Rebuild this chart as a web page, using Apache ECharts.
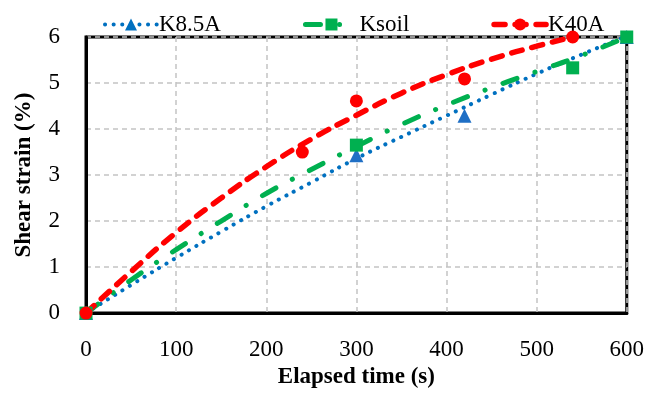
<!DOCTYPE html>
<html><head><meta charset="utf-8">
<script src="https://cdn.jsdelivr.net/npm/echarts@6/dist/echarts.min.js"></script>
<style>html,body{margin:0;padding:0;background:#fff}#c{width:647px;height:394px}</style>
</head><body><div id="c"></div>
<script>
const seriesNames = ['K8.5A', 'Ksoil', 'K40A'];
const xTicks = [0, 100, 200, 300, 400, 500, 600];
const yTicks = [0, 1, 2, 3, 4, 5, 6];

// measured points
const k85X = [0, 300, 420, 600];
const k85Y = [0, 3.43, 4.29, 6.0];
const ksoilX = [0, 300, 540, 600];
const ksoilY = [0, 3.65, 5.33, 6.0];
const k40X = [0, 240, 300, 420, 540];
const k40Y = [0, 3.5, 4.61, 5.09, 6.0];

// trend lines
const trend85X = [0, 50, 100, 150, 200, 250, 300, 350, 400, 450, 500, 550, 600];
const trend85Y = [0, 0.61, 1.2, 1.77, 2.32, 2.84, 3.36, 3.83, 4.29, 4.75, 5.2, 5.62, 6.02];
const trendSoilX = [0, 50, 100, 150, 200, 250, 300, 350, 400, 450, 500, 550, 600];
const trendSoilY = [0, 0.72, 1.38, 2.0, 2.6, 3.12, 3.62, 4.1, 4.52, 4.9, 5.25, 5.6, 6.0];
const trend40X = [0, 50, 100, 150, 200, 250, 300, 350, 400, 450, 500, 540];
const trend40Y = [0, 0.9, 1.75, 2.5, 3.18, 3.78, 4.3, 4.78, 5.18, 5.52, 5.8, 6.0];

const pairs = (xs, ys) => xs.map((x, i) => [x, ys[i]]);
const FONT = 'Liberation Serif';
const BLUE = '#0070C0', GREEN = '#00B050', RED = '#FF0000';
const styles = [
  { color: BLUE, width: 4, type: [0.1, 8.5], symbol: 'triangle' },
  { color: GREEN, width: 5, type: [15, 19, 0.1, 19], symbol: 'rect' },
  { color: RED, width: 5.5, type: [11, 10], symbol: 'circle' }
];
const lineStyleOf = s => ({ color: s.color, width: s.width, type: s.type, cap: 'round', opacity: 1 });

const chart = echarts.init(document.getElementById('c'));
chart.setOption({
  animation: false,
  backgroundColor: '#fff',
  textStyle: { fontFamily: FONT, color: '#000' },
  grid: { left: 86, right: 18, top: 37, bottom: 78, show: true, borderColor: '#000', borderWidth: 3 },
  legend: {
    data: seriesNames.map((n, i) => ({
      name: n,
      itemStyle: { color: styles[i].color, opacity: 1 },
      lineStyle: lineStyleOf(styles[i])
    })),
    left: 98, top: 8,
    itemWidth: 52, itemHeight: 15, itemGap: 82,
    textStyle: { fontFamily: FONT, fontSize: 23, color: '#000', padding: [0, 0, 0, -3] }
  },
  xAxis: {
    type: 'value', min: xTicks[0], max: xTicks[xTicks.length - 1], interval: 100,
    name: 'Elapsed time (s)', nameLocation: 'middle', nameGap: 47,
    nameTextStyle: { fontFamily: FONT, fontSize: 23, fontWeight: 'bold', color: '#000' },
    axisLine: { lineStyle: { color: '#000', width: 3 } },
    axisTick: { show: false },
    axisLabel: { fontFamily: FONT, fontSize: 23, color: '#000', margin: 25 },
    splitLine: { show: true, lineStyle: { color: '#c4c4c4', width: 1.5, type: [5, 4] } }
  },
  yAxis: {
    type: 'value', min: yTicks[0], max: yTicks[yTicks.length - 1], interval: 1,
    name: 'Shear strain (%)', nameLocation: 'middle', nameGap: 50,
    nameTextStyle: { fontFamily: FONT, fontSize: 23, fontWeight: 'bold', color: '#000' },
    axisLine: { lineStyle: { color: '#000', width: 3 } },
    axisTick: { show: false },
    axisLabel: { fontFamily: FONT, fontSize: 23, color: '#000', margin: 26 },
    splitLine: { show: true, lineStyle: { color: '#c4c4c4', width: 1.5, type: [5, 4] } }
  },
  series: [
    { name: seriesNames[0], type: 'line', data: pairs(trend85X, trend85Y), smooth: true, showSymbol: false,
      symbol: styles[0].symbol, clip: false,
      itemStyle: { color: styles[0].color }, lineStyle: lineStyleOf(styles[0]) },
    { name: seriesNames[1], type: 'line', data: pairs(trendSoilX, trendSoilY), smooth: true, showSymbol: false,
      symbol: styles[1].symbol, clip: false,
      itemStyle: { color: styles[1].color }, lineStyle: lineStyleOf(styles[1]) },
    { name: seriesNames[2], type: 'line', data: pairs(trend40X, trend40Y), smooth: true, showSymbol: false,
      symbol: styles[2].symbol, clip: false,
      itemStyle: { color: styles[2].color }, lineStyle: lineStyleOf(styles[2]) },
    { name: seriesNames[0] + ' data', type: 'scatter', data: pairs(k85X, k85Y), symbol: 'triangle', symbolSize: 14,
      itemStyle: { color: '#1F6FC5', opacity: 1 }, clip: false, z: 5 },
    { name: seriesNames[1] + ' data', type: 'scatter', data: pairs(ksoilX, ksoilY), symbol: 'rect', symbolSize: 13,
      itemStyle: { color: GREEN, opacity: 1 }, clip: false, z: 5 },
    { name: seriesNames[2] + ' data', type: 'scatter', data: pairs(k40X, k40Y), symbol: 'circle', symbolSize: 13,
      itemStyle: { color: RED, opacity: 1 }, clip: false, z: 6 }
  ]
});
</script></body></html>
